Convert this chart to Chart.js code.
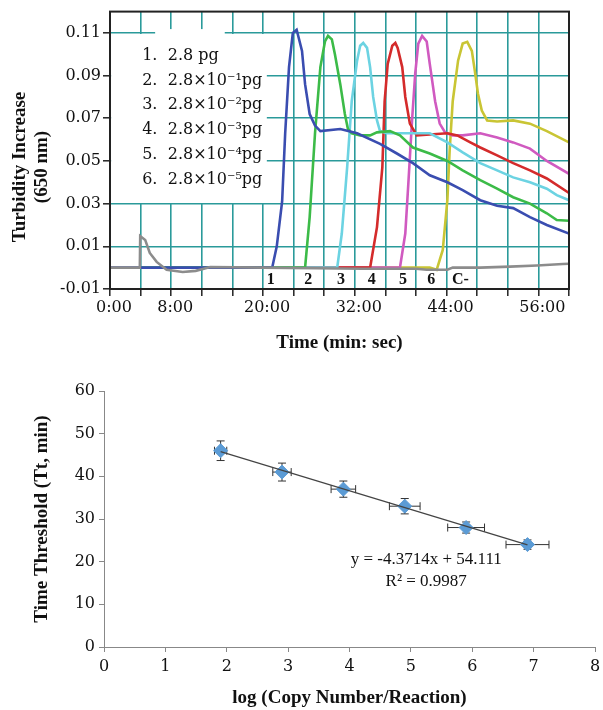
<!DOCTYPE html>
<html>
<head>
<meta charset="utf-8">
<script src="https://cdn.jsdelivr.net/npm/chart.js@4.4.1/dist/chart.umd.min.js"></script>
<style>
  body { margin: 0; background: #fff; }
  canvas { position: absolute; left: 0; }
  #turbidity { top: 0; }
  #threshold { top: 360px; }
</style>
</head>
<body>
<canvas id="turbidity" width="603" height="360"></canvas>
<canvas id="threshold" width="603" height="350"></canvas>
<script>
// ---- top chart: turbidity curves (time in minutes) ----
const timeTickValues = [0, 8, 20, 32, 44, 56];
const timeTickLabels = ['0:00', '8:00', '20:00', '32:00', '44:00', '56:00'];
const turbidityTicks = [-0.01, 0.01, 0.03, 0.05, 0.07, 0.09, 0.11];
const turbidityTitle = ['Turbidity Increase', '(650 nm)'];

const legendNumbers = ['1.', '2.', '3.', '4.', '5.', '6.'];
const legendLabels = ['2.8 pg', '2.8×10⁻¹pg', '2.8×10⁻²pg', '2.8×10⁻³pg', '2.8×10⁻⁴pg', '2.8×10⁻⁵pg'];

const curveLabels = ['1', '2', '3', '4', '5', '6', 'C-'];
const curveLabelTimes = [21.0, 25.9, 30.2, 34.2, 38.3, 42.0, 45.8];

const t1 = [0, 4, 21.2, 21.8, 22.5, 22.9, 23.4, 23.9, 24.4, 25.1, 25.5, 26.1, 26.8, 27.5, 30.1, 32.3, 35.3, 37.5, 39.6, 41.8, 44.1, 46.1, 48.4, 50.6, 52.7, 54.9, 57.1, 60];
const v1 = [0, 0, 0, 0.010, 0.031, 0.063, 0.094, 0.110, 0.1115, 0.1016, 0.086, 0.072, 0.0666, 0.064, 0.065, 0.063, 0.058, 0.0535, 0.049, 0.0433, 0.040, 0.0363, 0.0316, 0.029, 0.0279, 0.0237, 0.020, 0.016];

const t2 = [4, 25.5, 26.1, 26.8, 27.5, 28.1, 28.5, 29.0, 29.4, 30.1, 30.7, 31.1, 31.6, 32.7, 34.0, 34.9, 36.6, 37.9, 39.6, 41.8, 44.1, 46.1, 48.4, 50.6, 52.7, 54.9, 57.1, 58.4, 60];
const v2 = [0, 0, 0.0237, 0.063, 0.094, 0.106, 0.1086, 0.107, 0.100, 0.086, 0.072, 0.065, 0.063, 0.062, 0.062, 0.0634, 0.064, 0.062, 0.0563, 0.0535, 0.050, 0.0456, 0.041, 0.037, 0.033, 0.030, 0.0255, 0.0223, 0.022];

const t3 = [4, 29.7, 30.3, 31.0, 31.6, 32.3, 32.7, 33.1, 33.6, 34.0, 34.4, 34.9, 35.3, 36.2, 39.6, 41.8, 44.1, 46.1, 48.4, 50.6, 52.7, 54.9, 57.1, 58.4, 60];
const v3 = [0, 0, 0.016, 0.047, 0.078, 0.097, 0.104, 0.1053, 0.103, 0.094, 0.080, 0.069, 0.064, 0.063, 0.063, 0.063, 0.0587, 0.054, 0.049, 0.0456, 0.0423, 0.040, 0.037, 0.034, 0.0316];

const t4 = [4, 34.0, 34.9, 35.6, 35.9, 36.3, 36.9, 37.3, 37.6, 38.2, 38.6, 39.2, 40.1, 41.8, 44.1, 45.4, 47.1, 48.4, 50.6, 52.7, 54.9, 57.1, 60];
const v4 = [0, 0, 0.019, 0.047, 0.078, 0.0955, 0.104, 0.1053, 0.103, 0.094, 0.080, 0.0675, 0.062, 0.0624, 0.063, 0.062, 0.0587, 0.0563, 0.0526, 0.049, 0.0456, 0.0418, 0.035];

const t5 = [4, 37.9, 38.6, 39.0, 39.5, 39.9, 40.3, 40.8, 41.4, 41.8, 42.5, 43.1, 43.8, 44.8, 46.1, 48.4, 50.6, 52.7, 54.9, 57.1, 60];
const v5 = [0, 0, 0.016, 0.0395, 0.070, 0.091, 0.105, 0.1086, 0.106, 0.0955, 0.078, 0.0675, 0.0634, 0.062, 0.062, 0.063, 0.061, 0.0587, 0.0558, 0.050, 0.044];

const t6 = [4, 41.8, 42.7, 43.5, 44.1, 44.4, 44.8, 45.5, 46.1, 46.7, 47.3, 47.7, 48.1, 48.6, 49.3, 50.6, 52.7, 54.9, 57.1, 60];
const v6 = [0, 0, -0.001, 0.0083, 0.0316, 0.055, 0.078, 0.097, 0.105, 0.1058, 0.1016, 0.092, 0.0815, 0.0736, 0.069, 0.0685, 0.069, 0.0675, 0.064, 0.0587];

const tNeg = [0, 3.9, 3.95, 4.6, 5.2, 6.1, 7.4, 9.5, 11.2, 13.1, 20, 27, 33, 40, 41.4, 44.1, 44.8, 48.4, 52.3, 55.8, 59.2, 60];
const vNeg = [0, 0, 0.0148, 0.013, 0.0069, 0.0027, -0.001, -0.002, -0.0015, 0.0003, 0, -0.0003, -0.0005, -0.0005, -0.001, -0.001, 0, 0, 0.0005, 0.001, 0.0017, 0.0018];

// ---- bottom chart: time threshold vs log copy number ----
const logCopies = [1.9, 2.9, 3.9, 4.9, 5.9, 6.9];
const thresholdMin = [46, 41, 37, 33, 28, 24];
const thresholdErr = [2.3, 2.1, 1.9, 1.8, 1.3, 1.1];
const logCopiesErr = [0.1, 0.15, 0.2, 0.25, 0.3, 0.35];
const fitSlope = -4.3714;
const fitIntercept = 54.111;
const fitText = ['y = -4.3714x + 54.111', 'R² = 0.9987'];

const gridTeal = '#2a9a9a';
const serif = 'DejaVu Serif';

function pts(ts, vs) {
  return ts.map((t, i) => ({ x: t, y: vs[i] }));
}

function curve(label, ts, vs, color, order) {
  return {
    label: label,
    data: pts(ts, vs),
    borderColor: color,
    borderWidth: 2.6,
    pointRadius: 0,
    tension: 0,
    fill: false,
    order: order
  };
}

const turbidityDecor = {
  id: 'turbidityDecor',
  beforeDatasetsDraw(chart) {
    const { ctx, scales: { x, y } } = chart;
    // white box behind the legend text
    ctx.save();
    ctx.fillStyle = '#fff';
    ctx.fillRect(x.getPixelForValue(0.15), y.getPixelForValue(0.1095),
      x.getPixelForValue(20.5) - x.getPixelForValue(0.15),
      y.getPixelForValue(0.0303) - y.getPixelForValue(0.1095));
    ctx.fillRect(x.getPixelForValue(5.9), y.getPixelForValue(0.1118),
      x.getPixelForValue(15) - x.getPixelForValue(5.9),
      y.getPixelForValue(0.1085) - y.getPixelForValue(0.1118));
    ctx.restore();
  },
  afterDatasetsDraw(chart) {
    const { ctx, chartArea: a, scales: { x, y } } = chart;
    ctx.save();
    ctx.strokeStyle = '#222';
    ctx.lineWidth = 2;
    ctx.strokeRect(a.left, a.top, a.right - a.left, a.bottom - a.top);

    ctx.fillStyle = '#111';
    ctx.textBaseline = 'middle';
    ctx.font = '16px "' + serif + '"';
    legendLabels.forEach((txt, i) => {
      const py = y.getPixelForValue(0.0993 - i * 0.0116);
      ctx.textAlign = 'left';
      ctx.fillText(legendNumbers[i], x.getPixelForValue(4.2), py);
      ctx.fillText(txt, x.getPixelForValue(7.55), py);
    });

    ctx.font = 'bold 16px "Liberation Serif"';
    ctx.textAlign = 'center';
    curveLabels.forEach((txt, i) => {
      ctx.fillText(txt, x.getPixelForValue(curveLabelTimes[i]), y.getPixelForValue(-0.0055));
    });

    // y axis title, sitting a little below the axis middle as in the figure
    ctx.font = 'bold 19px "Liberation Serif"';
    ctx.translate(0, 167);
    ctx.rotate(-Math.PI / 2);
    ctx.fillText(turbidityTitle[0], 0, 20);
    ctx.fillText(turbidityTitle[1], 0, 42);
    ctx.restore();
  }
};

new Chart(document.getElementById('turbidity'), {
  type: 'line',
  data: {
    datasets: [
      curve('C-', tNeg, vNeg, '#8c8c8c', 0),
      curve('1', t1, v1, '#3a4db0', 1),
      curve('2', t2, v2, '#3cbb48', 1),
      curve('3', t3, v3, '#6cd3e2', 1),
      curve('4', t4, v4, '#d42b2b', 1),
      curve('5', t5, v5, '#d05ac0', 1),
      curve('6', t6, v6, '#c9c534', 1)
    ]
  },
  options: {
    responsive: false,
    animation: false,
    layout: { padding: { left: 0, right: 34, top: 10, bottom: 0 } },
    plugins: { legend: { display: false }, tooltip: { enabled: false } },
    scales: {
      x: {
        type: 'linear',
        min: 0,
        max: 60,
        afterBuildTicks: (axis) => {
          const ticks = [];
          for (let m = 0; m <= 60; m += 4) ticks.push({ value: m });
          axis.ticks = ticks;
        },
        afterFit: (axis) => { axis.height = 71; },
        grid: { color: gridTeal, lineWidth: 1.6, tickColor: '#222', tickLength: 7, tickWidth: 1.5 },
        border: { color: '#222', width: 2 },
        ticks: {
          autoSkip: false,
          maxRotation: 0,
          padding: 2,
          labelOffset: 4,
          color: '#111',
          font: { family: serif, size: 16 },
          callback: (value) => {
            const i = timeTickValues.indexOf(value);
            return i >= 0 ? timeTickLabels[i] : '';
          }
        },
        title: {
          display: true,
          text: 'Time (min: sec)',
          color: '#111',
          font: { family: 'Liberation Serif', size: 19, weight: 'bold' },
          padding: { top: 0, bottom: 6 }
        }
      },
      y: {
        min: -0.01,
        max: 0.12,
        afterBuildTicks: (axis) => {
          axis.ticks = turbidityTicks.map(v => ({ value: v }));
        },
        afterFit: (axis) => { axis.width = 110; },
        grid: { color: gridTeal, lineWidth: 1.6, tickColor: '#222', tickLength: 7, tickWidth: 1.5 },
        border: { color: '#222', width: 2 },
        ticks: {
          padding: 2,
          color: '#111',
          font: { family: serif, size: 16 },
          callback: (value) => value.toFixed(2)
        }
      }
    }
  },
  plugins: [turbidityDecor]
});

const thresholdDecor = {
  id: 'thresholdDecor',
  beforeDatasetsDraw(chart) {
    const { ctx, scales: { x, y } } = chart;
    ctx.save();
    ctx.strokeStyle = '#333';
    ctx.lineWidth = 1;
    const cap = 4;
    logCopies.forEach((lx, i) => {
      const px = x.getPixelForValue(lx);
      const py = y.getPixelForValue(thresholdMin[i]);
      const yTop = y.getPixelForValue(thresholdMin[i] + thresholdErr[i]);
      const yBot = y.getPixelForValue(thresholdMin[i] - thresholdErr[i]);
      const xL = x.getPixelForValue(lx - logCopiesErr[i]);
      const xR = x.getPixelForValue(lx + logCopiesErr[i]);
      ctx.beginPath();
      ctx.moveTo(px, yTop); ctx.lineTo(px, yBot);
      ctx.moveTo(px - cap, yTop); ctx.lineTo(px + cap, yTop);
      ctx.moveTo(px - cap, yBot); ctx.lineTo(px + cap, yBot);
      ctx.moveTo(xL, py); ctx.lineTo(xR, py);
      ctx.moveTo(xL, py - cap); ctx.lineTo(xL, py + cap);
      ctx.moveTo(xR, py - cap); ctx.lineTo(xR, py + cap);
      ctx.stroke();
    });
    ctx.restore();
  },
  afterDatasetsDraw(chart) {
    const { ctx, scales: { x, y } } = chart;
    ctx.save();
    ctx.fillStyle = '#111';
    ctx.textAlign = 'center';
    ctx.textBaseline = 'middle';
    ctx.font = '17px "Liberation Serif"';
    ctx.fillText(fitText[0], x.getPixelForValue(5.25), y.getPixelForValue(20.5));
    ctx.fillText(fitText[1], x.getPixelForValue(5.25), y.getPixelForValue(15.3));
    ctx.restore();
  }
};

const fitX = [logCopies[0], logCopies[logCopies.length - 1]];

new Chart(document.getElementById('threshold'), {
  type: 'scatter',
  data: {
    datasets: [
      {
        type: 'line',
        label: 'fit',
        data: fitX.map(v => ({ x: v, y: fitSlope * v + fitIntercept })),
        borderColor: '#444',
        borderWidth: 1.2,
        pointRadius: 0,
        order: 0
      },
      {
        label: 'Tt',
        data: pts(logCopies, thresholdMin),
        pointStyle: 'rectRot',
        pointRadius: 7,
        backgroundColor: '#5b9bd5',
        borderColor: '#5b9bd5',
        order: 1
      }
    ]
  },
  options: {
    responsive: false,
    animation: false,
    layout: { padding: { left: 0, right: 0, top: 31, bottom: 0 } },
    plugins: { legend: { display: false }, tooltip: { enabled: false } },
    scales: {
      x: {
        type: 'linear',
        min: 0,
        max: 8,
        afterFit: (axis) => { axis.height = 63; axis.paddingRight = 5; },
        grid: { drawOnChartArea: false, color: '#888', tickLength: 5 },
        border: { color: '#888', width: 1 },
        ticks: {
          stepSize: 1,
          padding: 5,
          color: '#111',
          font: { family: serif, size: 16 }
        },
        title: {
          display: true,
          text: 'log (Copy Number/Reaction)',
          color: '#111',
          font: { family: 'Liberation Serif', size: 19, weight: 'bold' },
          padding: { top: 0, bottom: 1 }
        }
      },
      y: {
        min: 0,
        max: 60,
        afterFit: (axis) => { axis.width = 104; },
        grid: { drawOnChartArea: false, color: '#888', tickLength: 5 },
        border: { color: '#888', width: 1 },
        ticks: {
          stepSize: 10,
          padding: 4,
          color: '#111',
          font: { family: serif, size: 16 }
        },
        title: {
          display: true,
          text: 'Time Threshold (Tt, min)',
          color: '#111',
          font: { family: 'Liberation Serif', size: 19, weight: 'bold', lineHeight: 1.15 },
          padding: { top: 31, bottom: 0 }
        }
      }
    }
  },
  plugins: [thresholdDecor]
});
</script>
</body>
</html>
